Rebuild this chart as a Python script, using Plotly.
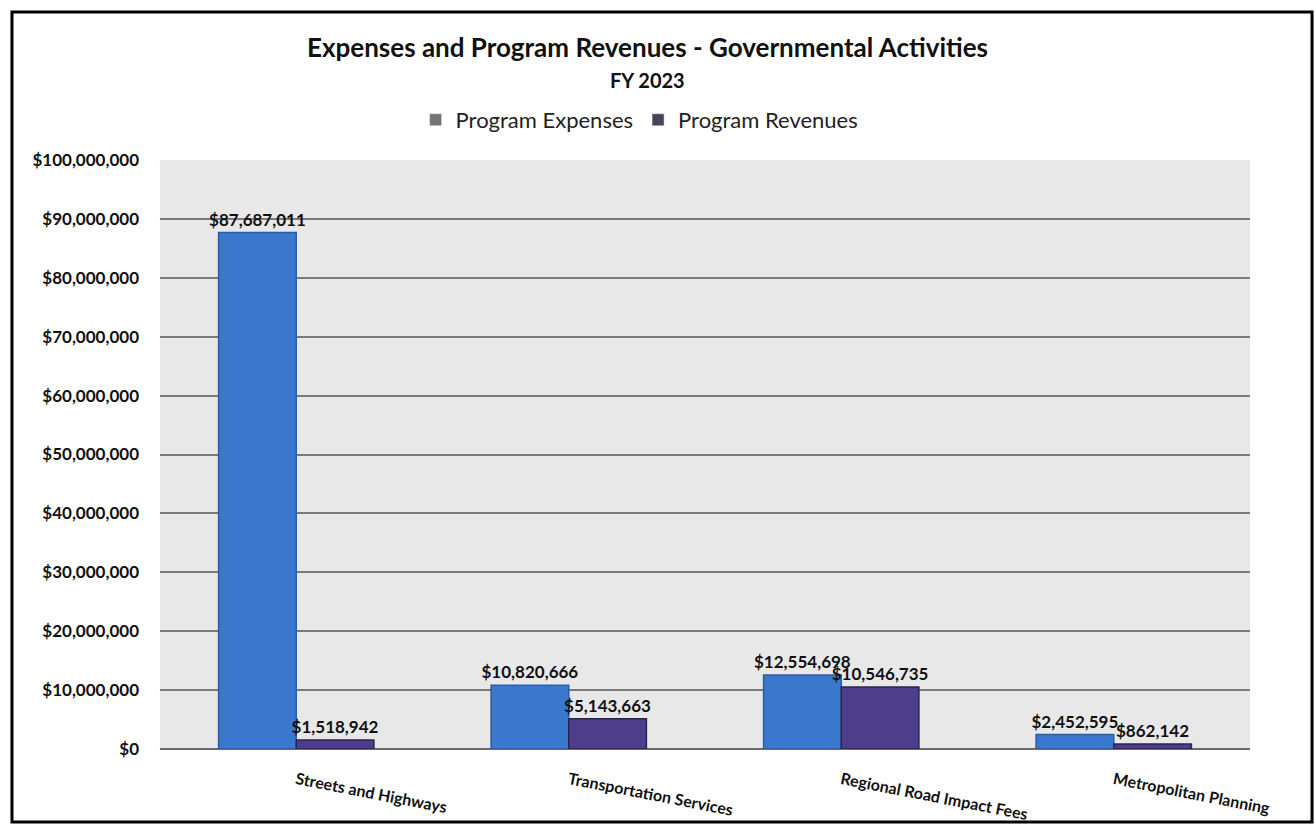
import plotly.graph_objects as go

# Governmental activities, FY 2023
categories = [
    "Streets and Highways",
    "Transportation Services",
    "Regional Road Impact Fees",
    "Metropolitan Planning",
]
program_expenses = [87687011, 10820666, 12554698, 2452595]
program_revenues = [1518942, 5143663, 10546735, 862142]

y_ticks = list(range(0, 100_000_001, 10_000_000))

FONT = "Lato"
BLUE = "#3A78CD"
BLUE_EDGE = "#2A5CA6"
PURPLE = "#4E3D8A"
PURPLE_EDGE = "#2A2452"

fig = go.Figure()

label_font = dict(family=FONT, size=17, color="#111111", weight="bold")

fig.add_trace(go.Bar(
    name="Program Expenses",
    x=categories,
    y=program_expenses,
    offsetgroup="exp",
    marker=dict(color=BLUE, line=dict(color=BLUE_EDGE, width=1.5)),
    texttemplate="%{y:$,.0f}",
    textposition="outside",
    textfont=label_font,
    constraintext="none",
    cliponaxis=False,
    showlegend=False,
))
fig.add_trace(go.Bar(
    name="Program Revenues",
    x=categories,
    y=program_revenues,
    offsetgroup="rev",
    marker=dict(color=PURPLE, line=dict(color=PURPLE_EDGE, width=1.5)),
    texttemplate="%{y:$,.0f}",
    textposition="outside",
    textfont=label_font,
    constraintext="none",
    cliponaxis=False,
    showlegend=False,
))

# legend swatches (muted, as in the printed report legend)
fig.add_trace(go.Bar(name="Program Expenses", x=[None], y=[None], offsetgroup="exp",
                     marker=dict(color="#747474"), showlegend=True))
fig.add_trace(go.Bar(name="Program Revenues", x=[None], y=[None], offsetgroup="rev",
                     marker=dict(color="#4A4256"), showlegend=True))

# outer frame around the whole chart
fig.add_shape(type="rect", xref="paper", yref="paper",
              x0=-0.1358, x1=1.0569, y0=-0.1239, y1=1.2513,
              line=dict(color="#000000", width=3), fillcolor="rgba(0,0,0,0)",
              layer="above")

# heading lines
fig.add_annotation(
    text="<b>Expenses and Program Revenues - Governmental Activities</b>",
    xref="paper", yref="paper", x=0.4477, y=1.192,
    xanchor="center", yanchor="middle", showarrow=False,
    font=dict(family=FONT, size=26, color="#111111"),
)
fig.add_annotation(
    text="<b>FY 2023</b>",
    xref="paper", yref="paper", x=0.4477, y=1.135,
    xanchor="center", yanchor="middle", showarrow=False,
    font=dict(family=FONT, size=20, color="#111111"),
)

fig.update_layout(
    width=1315,
    height=825,
    margin=dict(l=160, r=65, t=160, b=76),
    paper_bgcolor="#FFFFFF",
    plot_bgcolor="#E8E8E8",
    barmode="group",
    bargap=0.43,
    bargroupgap=0.0,
    font=dict(family=FONT, color="#111111"),
    legend=dict(
        orientation="h",
        x=0.440, xanchor="center",
        y=1.068, yanchor="middle",
        font=dict(family=FONT, size=22, color="#222222"),
        bgcolor="rgba(0,0,0,0)",
        itemwidth=30,
        traceorder="normal",
    ),
    xaxis=dict(
        type="category",
        range=[-0.5, 3.5],
        automargin=False,
        tickangle=11,
        ticklabelstandoff=18,
        tickfont=dict(family=FONT, size=16, color="#111111", weight="bold"),
        showgrid=False,
        showline=False,
        ticks="",
        zeroline=False,
    ),
    yaxis=dict(
        range=[0, 100_000_000],
        automargin=False,
        tickvals=y_ticks,
        tickformat="$,.0f",
        tickfont=dict(family=FONT, size=17, color="#111111", weight="bold"),
        showgrid=True,
        gridcolor="#7A7A7A",
        gridwidth=2,
        zeroline=True,
        zerolinecolor="#6A6A6A",
        zerolinewidth=2,
        showline=False,
        ticks="",
        ticklabelstandoff=20,
    ),
)

fig.write_html("out.html")
